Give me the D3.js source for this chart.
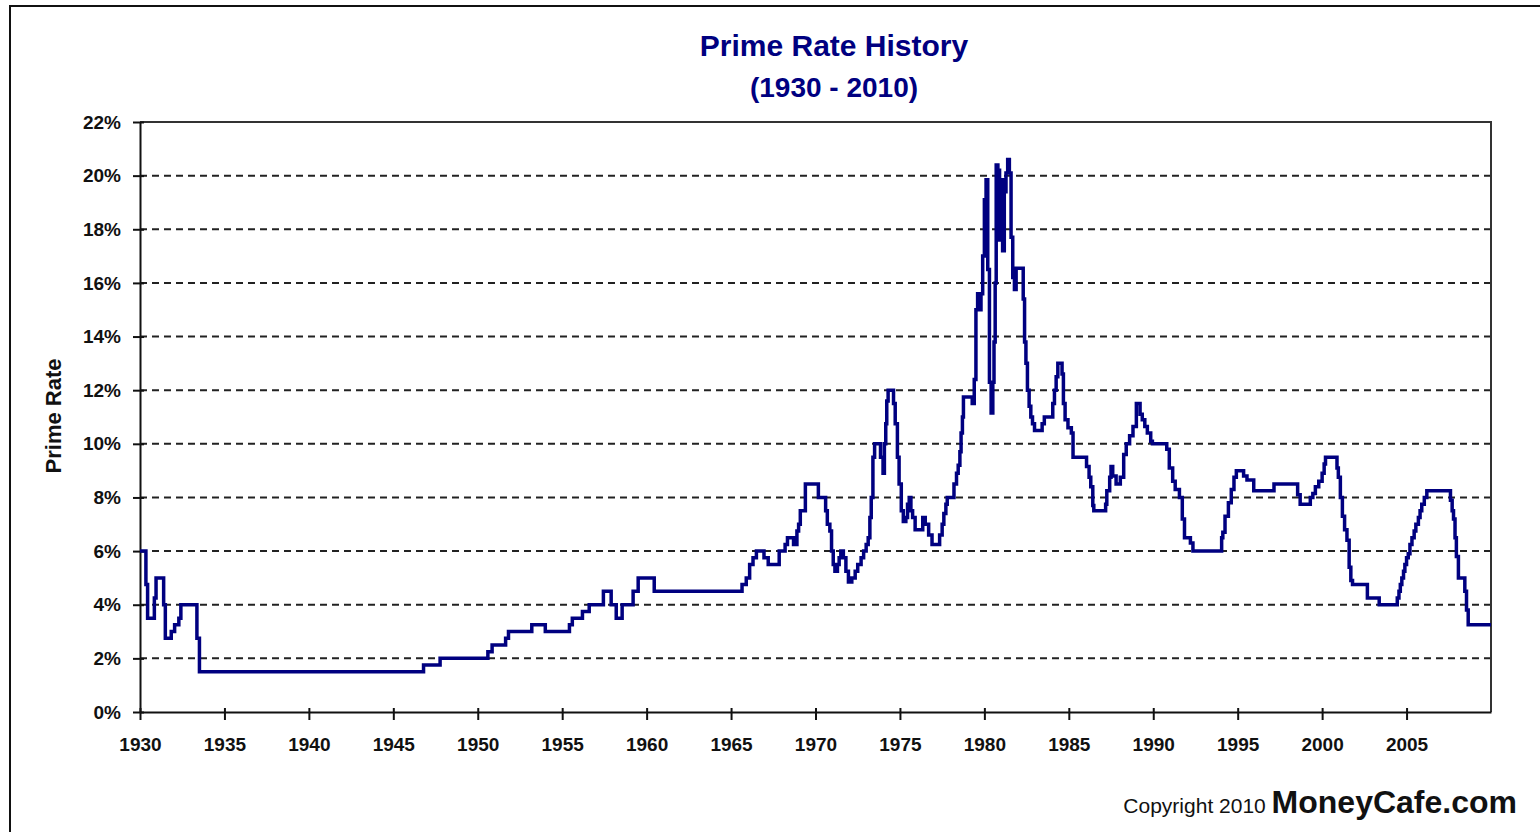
<!DOCTYPE html>
<html>
<head>
<meta charset="utf-8">
<script src="https://cdn.jsdelivr.net/npm/d3@7"></script>
<style>
  body { margin: 0; background: #fff; }
  svg { display: block; font-family: "Liberation Sans", Arial, sans-serif; }
</style>
</head>
<body>
<div id="chart"></div>
<script>
// step start (decimal year) and prime rate (%) held until the next step
const years = [
  1930.0, 1930.35, 1930.45, 1930.85, 1930.95, 1931.4, 1931.5, 1931.85, 1932.05, 1932.3,
  1932.42, 1933.37, 1933.52, 1946.79, 1947.77, 1950.6, 1950.85, 1951.65, 1951.82, 1953.2,
  1954.0, 1955.43, 1955.6, 1956.2, 1956.6, 1957.44, 1957.9, 1958.2, 1958.55, 1959.2,
  1959.5, 1960.45, 1965.65, 1965.9, 1966.1, 1966.3, 1966.5, 1966.95, 1967.2, 1967.85,
  1968.2, 1968.34, 1968.7, 1968.9, 1969.0, 1969.1, 1969.4, 1970.17, 1970.6, 1970.7,
  1970.85, 1970.95, 1971.05, 1971.15, 1971.3, 1971.4, 1971.5, 1971.65, 1971.8, 1971.95,
  1972.15, 1972.35, 1972.5, 1972.7, 1972.85, 1973.0, 1973.12, 1973.22, 1973.3, 1973.4,
  1973.5, 1973.85, 1974.0, 1974.08, 1974.16, 1974.22, 1974.3, 1974.62, 1974.72, 1974.85,
  1974.95, 1975.08, 1975.2, 1975.35, 1975.45, 1975.55, 1975.65, 1975.75, 1975.9, 1976.35,
  1976.5, 1976.7, 1976.9, 1977.35, 1977.5, 1977.6, 1977.72, 1977.8, 1978.2, 1978.35,
  1978.45, 1978.55, 1978.62, 1978.7, 1978.76, 1979.28, 1979.4, 1979.5, 1979.6, 1979.7,
  1979.8, 1979.9, 1980.0, 1980.1, 1980.2, 1980.3, 1980.4, 1980.5, 1980.57, 1980.64,
  1980.7, 1980.8, 1980.9, 1980.98, 1981.08, 1981.18, 1981.28, 1981.38, 1981.48, 1981.58,
  1981.68, 1981.78, 1981.88, 1982.3, 1982.38, 1982.46, 1982.55, 1982.65, 1982.75, 1982.85,
  1982.97, 1983.42, 1983.55, 1984.05, 1984.15, 1984.25, 1984.35, 1984.6, 1984.68, 1984.78,
  1984.95, 1985.15, 1985.25, 1986.05, 1986.2, 1986.3, 1986.42, 1986.48, 1987.18, 1987.25,
  1987.42, 1987.5, 1987.6, 1987.8, 1988.05, 1988.25, 1988.4, 1988.6, 1988.8, 1989.0,
  1989.22, 1989.35, 1989.5, 1989.65, 1989.85, 1989.95, 1990.8, 1990.95, 1991.15, 1991.3,
  1991.55, 1991.72, 1991.85, 1992.2, 1992.35, 1994.05, 1994.12, 1994.25, 1994.45, 1994.62,
  1994.78, 1994.92, 1995.35, 1995.55, 1995.95, 1997.15, 1998.55, 1998.7, 1999.3, 1999.45,
  1999.6, 1999.8, 2000.0, 2000.12, 2000.2, 2000.88, 2000.96, 2001.08, 2001.2, 2001.33,
  2001.47, 2001.6, 2001.7, 2001.8, 2002.68, 2003.38, 2004.45, 2004.55, 2004.63, 2004.72,
  2004.82, 2004.9, 2005.0, 2005.1, 2005.2, 2005.32, 2005.45, 2005.55, 2005.7, 2005.8,
  2005.9, 2006.05, 2006.2, 2007.6, 2007.7, 2007.78, 2007.87, 2007.95, 2008.07, 2008.45,
  2008.55, 2008.65, 2010.0
];
const rates = [
  6.0, 4.75, 3.5, 4.25, 5.0, 4.0, 2.75, 3.0, 3.25, 3.5,
  4.0, 2.75, 1.5, 1.75, 2.0, 2.25, 2.5, 2.75, 3.0, 3.25,
  3.0, 3.25, 3.5, 3.75, 4.0, 4.5, 4.0, 3.5, 4.0, 4.5,
  5.0, 4.5, 4.75, 5.0, 5.5, 5.75, 6.0, 5.75, 5.5, 6.0,
  6.25, 6.5, 6.25, 6.75, 7.0, 7.5, 8.5, 8.0, 7.5, 7.0,
  6.75, 6.0, 5.5, 5.25, 5.5, 5.75, 6.0, 5.75, 5.25, 4.85,
  5.0, 5.25, 5.5, 5.75, 6.0, 6.25, 6.5, 7.25, 8.0, 9.5,
  10.0, 9.5, 8.9, 10.0, 10.75, 11.6, 12.0, 11.5, 10.75, 9.5,
  8.5, 7.5, 7.1, 7.25, 7.75, 8.0, 7.5, 7.25, 6.8, 7.25,
  7.0, 6.6, 6.25, 6.6, 7.0, 7.4, 7.75, 8.0, 8.5, 8.9,
  9.2, 9.7, 10.4, 11.0, 11.75, 11.5, 12.4, 15.0, 15.6, 15.0,
  15.6, 17.0, 19.1, 19.85, 16.5, 12.3, 11.15, 12.3, 13.8, 16.0,
  20.4, 20.2, 17.6, 19.85, 17.2, 19.4, 20.1, 20.6, 20.1, 17.7,
  16.2, 15.75, 16.55, 15.4, 13.8, 13.0, 12.0, 11.4, 11.0, 10.75,
  10.5, 10.75, 11.0, 11.5, 12.0, 12.5, 13.0, 12.6, 11.5, 10.9,
  10.6, 10.4, 9.5, 9.15, 8.75, 8.4, 7.7, 7.5, 7.75, 8.25,
  8.75, 9.15, 8.8, 8.5, 8.75, 9.6, 10.0, 10.3, 10.65, 11.5,
  11.1, 10.9, 10.65, 10.4, 10.1, 10.0, 9.8, 9.1, 8.6, 8.3,
  8.0, 7.2, 6.5, 6.3, 6.0, 6.5, 6.7, 7.3, 7.8, 8.3,
  8.75, 9.0, 8.8, 8.65, 8.25, 8.5, 8.1, 7.75, 8.0, 8.15,
  8.4, 8.6, 8.9, 9.25, 9.5, 9.1, 8.75, 8.0, 7.3, 6.8,
  6.4, 5.4, 4.9, 4.75, 4.25, 4.0, 4.25, 4.5, 4.75, 5.0,
  5.25, 5.5, 5.75, 5.9, 6.25, 6.5, 6.75, 7.0, 7.25, 7.5,
  7.75, 8.0, 8.25, 7.9, 7.5, 7.2, 6.5, 5.8, 5.0, 4.5,
  3.8, 3.25, 3.25
];
const xTicks = [1930, 1935, 1940, 1945, 1950, 1955, 1960, 1965, 1970, 1975, 1980, 1985, 1990, 1995, 2000, 2005];
const yTicks = [0, 2, 4, 6, 8, 10, 12, 14, 16, 18, 20, 22];
const gridValues = [2, 4, 6, 8, 10, 12, 14, 16, 18, 20];

const width = 1540, height = 832;
const navy = "#000080";

const svg = d3.select("#chart").append("svg")
  .attr("width", width)
  .attr("height", height);

// outer frame
svg.append("rect")
  .attr("x", 10).attr("y", 6)
  .attr("width", width + 20).attr("height", height + 20)
  .attr("fill", "none").attr("stroke", "#111").attr("stroke-width", 2);

const x = d3.scaleLinear().domain([1930, 2010]).range([140, 1491]);
const y = d3.scaleLinear().domain([0, 22]).range([712, 122]);

// gridlines
svg.append("g").selectAll("line")
  .data(gridValues)
  .enter().append("line")
  .attr("x1", x(1930)).attr("x2", x(2010))
  .attr("y1", d => y(d)).attr("y2", d => y(d))
  .attr("stroke", "#222").attr("stroke-width", 2)
  .attr("stroke-dasharray", "7,5");

// plot frame top / right
svg.append("path")
  .attr("d", `M${x(1930)},${y(22)}H${x(2010)}V${y(0)}`)
  .attr("fill", "none").attr("stroke", "#333").attr("stroke-width", 2);

// axes
const yAxis = svg.append("g")
  .attr("transform", `translate(${x(1930)},0)`)
  .call(d3.axisLeft(y).tickValues(yTicks).tickFormat(d => d + "%").tickSizeInner(7).tickSizeOuter(0).tickPadding(12));

const xAxis = svg.append("g")
  .attr("transform", `translate(0,${y(0)})`)
  .call(d3.axisBottom(x).tickValues(xTicks).tickFormat(d3.format("d")).tickSizeInner(8).tickSizeOuter(0).tickPadding(18));

[yAxis, xAxis].forEach(g => {
  g.select(".domain").attr("stroke", "#111").attr("stroke-width", 2);
  g.selectAll(".tick line").attr("stroke", "#111").attr("stroke-width", 2);
  g.selectAll("text")
    .attr("font-family", "'Liberation Sans', Arial, sans-serif")
    .attr("font-weight", "bold")
    .attr("font-size", 19)
    .attr("fill", "#111");
});
// ticks cross the axis slightly
yAxis.selectAll(".tick").append("line").attr("x2", 4).attr("stroke", "#111").attr("stroke-width", 2);
xAxis.selectAll(".tick").append("line").attr("y2", -4).attr("stroke", "#111").attr("stroke-width", 2);

// rate line
const data = years.map((yr, i) => ({ year: yr, rate: rates[i] }));
const line = d3.line()
  .x(d => x(d.year))
  .y(d => y(d.rate))
  .curve(d3.curveStepAfter);

svg.append("path")
  .datum(data)
  .attr("d", line)
  .attr("fill", "none")
  .attr("stroke", navy)
  .attr("stroke-width", 3.5);

// titles
svg.append("text")
  .attr("x", 834).attr("y", 56)
  .attr("text-anchor", "middle")
  .attr("font-size", 30).attr("font-weight", "bold")
  .attr("fill", navy)
  .text("Prime Rate History");

svg.append("text")
  .attr("x", 834).attr("y", 97)
  .attr("text-anchor", "middle")
  .attr("font-size", 28).attr("font-weight", "bold")
  .attr("fill", navy)
  .text("(1930 - 2010)");

svg.append("text")
  .attr("transform", `translate(61,416) rotate(-90)`)
  .attr("text-anchor", "middle")
  .attr("font-size", 22).attr("font-weight", "bold")
  .attr("fill", "#111")
  .text("Prime Rate");

// copyright
const copy = svg.append("text")
  .attr("x", 1517).attr("y", 813)
  .attr("text-anchor", "end")
  .attr("fill", "#111");
copy.append("tspan").attr("font-size", 21).text("Copyright 2010 ");
copy.append("tspan").attr("font-size", 32).attr("font-weight", "bold").text("MoneyCafe.com");
</script>
</body>
</html>
